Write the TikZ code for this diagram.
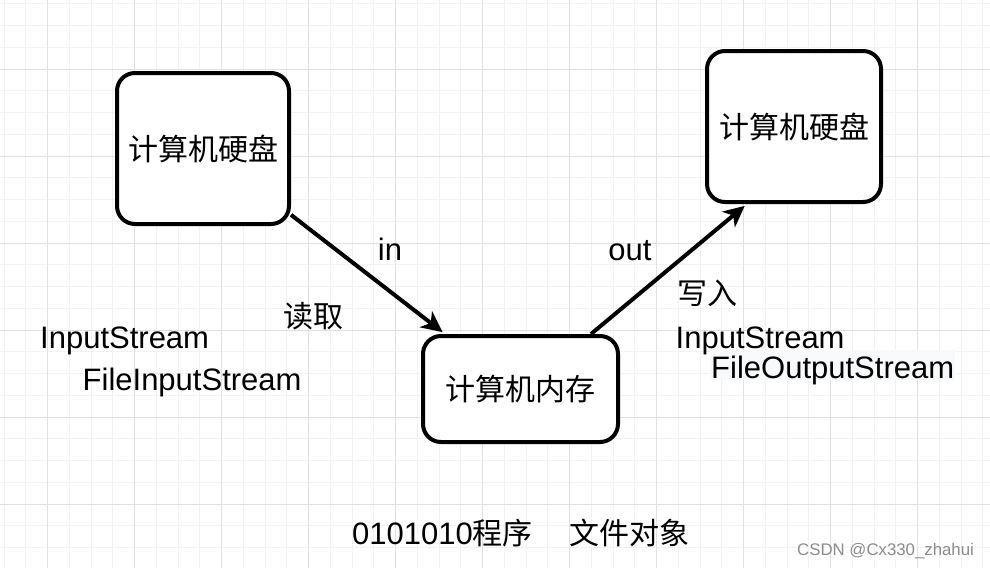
\documentclass[tikz,border=0pt]{standalone}
\usepackage{fontspec}
\setmainfont{Liberation Sans}
\newfontfamily\cjk{Noto Sans CJK SC}
\usetikzlibrary{arrows.meta,calc}
\definecolor{gridminor}{RGB}{242,242,242}
\definecolor{gridmajor}{RGB}{225,225,225}
\definecolor{hlbg}{RGB}{248,249,250}
\definecolor{wm}{RGB}{140,140,140}
\begin{document}
\begin{tikzpicture}[x=1pt,y=-1pt,
  box/.style={draw,line width=4pt,rounded corners=18pt,fill=white,inner sep=0pt,font=\cjk\fontsize{30}{36}\selectfont},
  arr/.style={line width=4pt,shorten >=3pt,-{Stealth[length=21pt,width=20pt,inset=6pt]}},
  lat/.style={inner sep=0pt,font=\fontsize{31}{37}\selectfont},
  cj/.style={inner sep=0pt,font=\cjk\fontsize{30}{36}\selectfont},
  minorl/.style={draw=gridminor,line width=1pt},
  majorl/.style={draw=gridmajor,line width=1pt}]
\useasboundingbox (0,0) rectangle (990,568);
\fill[white] (0,0) rectangle (990,568);
% grid
\foreach \i in {-2,...,43}{
  \pgfmathsetmacro\xx{47.5+21.75*\i}
  \draw[minorl] (\xx,0) -- (\xx,568);
}
\foreach \i in {-3,...,23}{
  \pgfmathsetmacro\yy{69+21.75*\i}
  \draw[minorl] (0,\yy) -- (990,\yy);
}
\foreach \i in {0,...,10}{
  \pgfmathsetmacro\xx{47.5+87*\i}
  \draw[majorl] (\xx,0) -- (\xx,568);
}
\foreach \i in {0,...,5}{
  \pgfmathsetmacro\yy{69+87*\i}
  \draw[majorl] (0,\yy) -- (990,\yy);
}
% boxes
\node[box,minimum width=172pt,minimum height=151pt] (b1) at (203,148.5) {计算机硬盘};
\node[box,minimum width=174pt,minimum height=151pt] (b2) at (794,126.5) {计算机硬盘};
\node[box,minimum width=195pt,minimum height=106pt] (b3) at (520.5,389) {计算机内存};
% arrows
\draw[arr] (b1.-37) -- ([xshift=24pt]b3.north west);
\draw[arr] ([xshift=-29pt]b3.north east) -- ([xshift=42pt]b2.south west);
% labels
\node[lat,anchor=base] (lin) at (390,260.5) {in};
\node[lat,anchor=base] (lout) at (630,260) {out};
\node[cj] (lrd) at (313,316) {读取};
\node[cj] (lwr) at (707,293) {写入};
\node[lat,anchor=base west] (is1) at (40,348) {InputStream};
\node[lat,anchor=base west] (fis) at (82.5,390.7) {FileInputStream};
\node[lat,anchor=base west] (is2) at (675.5,348.3) {InputStream};
\node[lat,anchor=base west,fill=hlbg,inner xsep=1pt,text height=28pt,text depth=2pt] (fos) at (710,378.3) {FileOutputStream};
\node[lat,anchor=base west] (bt) at (352,544) {0101010{\cjk\fontsize{30}{36}\selectfont 程序\hspace{37pt}文件对象}};
\node[anchor=base west,inner sep=0pt,text=wm,font=\fontsize{16.8}{20}\selectfont] (wmk) at (797,555) {CSDN @Cx330\_zhahui};
\end{tikzpicture}
\end{document}
